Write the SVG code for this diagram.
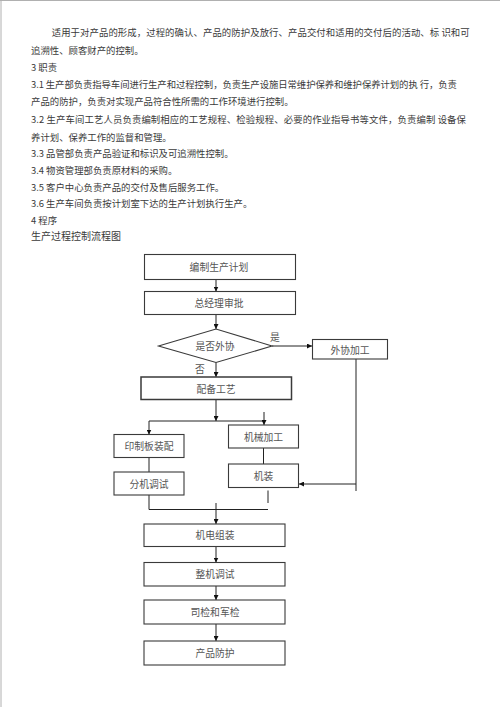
<svg xmlns="http://www.w3.org/2000/svg" width="500" height="707" viewBox="0 0 500 707">
<style>
.p{font-family:"Noto Sans CJK SC","Liberation Serif",sans-serif;font-size:9.4px;fill:#3a3a3a;dominant-baseline:central}
.b{fill:#fff;stroke:#3a3a3a;stroke-width:1.1}
.t{font-family:"Noto Sans CJK SC","Liberation Serif",sans-serif;font-size:9.8px;fill:#555;text-anchor:middle;dominant-baseline:central}
.c{fill:none;stroke:#222;stroke-width:1}
.a{fill:none;stroke:#222;stroke-width:1;marker-end:url(#ah)}
</style>
<defs>
<marker id="ah" viewBox="0 0 10 10" refX="10" refY="5" markerWidth="5" markerHeight="5" markerUnits="userSpaceOnUse" orient="auto">
<path d="M0,0 L10,5 L0,10 Z" fill="#111"/>
</marker>
</defs>
<rect width="500" height="707" fill="#fff"/>
<g id="page-border" stroke="#b0b0b0" stroke-width="1">
<line x1="1" y1="0" x2="1" y2="707"/>
<line x1="0" y1="0.5" x2="500" y2="0.5"/>
</g>
<g id="body-text">
<text class="p" x="51.7" y="32.3" textLength="418" lengthAdjust="spacing">适用于对产品的形成，过程的确认、产品的防护及放行、产品交付和适用的交付后的活动、标 识和可</text>
<text class="p" x="31" y="50">追溯性、顾客财产的控制。</text>
<text class="p" x="31" y="66.7">3 职责</text>
<text class="p" x="31" y="84.3" textLength="426" lengthAdjust="spacing">3.1 生产部负责指导车间进行生产和过程控制，负责生产设施日常维护保养和维护保养计划的执 行，负责</text>
<text class="p" x="31" y="100.7">产品的防护，负责对实现产品符合性所需的工作环境进行控制。</text>
<text class="p" x="31" y="119" textLength="435" lengthAdjust="spacing">3.2 生产车间工艺人员负责编制相应的工艺规程、检验规程、必要的作业指导书等文件，负责编制 设备保</text>
<text class="p" x="31" y="136.7">养计划、保养工作的监督和管理。</text>
<text class="p" x="31" y="153.3">3.3 品管部负责产品验证和标识及可追溯性控制。</text>
<text class="p" x="31" y="170">3.4 物资管理部负责原材料的采购。</text>
<text class="p" x="31" y="186.5">3.5 客户中心负责产品的交付及售后服务工作。</text>
<text class="p" x="31" y="203.3">3.6 生产车间负责按计划室下达的生产计划执行生产。</text>
<text class="p" x="31" y="220">4 程序</text>
<text class="p" x="31" y="235.7" style="font-size:10px">生产过程控制流程图</text>
</g>
<g id="connectors">
<line class="a" x1="216" y1="279.5" x2="216" y2="291.5"/>
<line class="a" x1="216" y1="314.5" x2="216" y2="329"/>
<line class="a" x1="272" y1="346" x2="312" y2="346"/>
<line class="a" x1="216" y1="362.5" x2="216" y2="377"/>
<line class="c" x1="356" y1="359" x2="356" y2="491"/>
<line class="a" x1="356" y1="484" x2="299" y2="484"/>
<line class="a" x1="216" y1="399.5" x2="216" y2="421"/>
<line class="c" x1="149" y1="421" x2="264" y2="421"/>
<line class="a" x1="149" y1="421" x2="149" y2="434.5"/>
<line class="a" x1="264" y1="412" x2="264" y2="425"/>
<line class="c" x1="149" y1="457.5" x2="149" y2="472"/>
<line class="c" x1="263.5" y1="448" x2="263.5" y2="464"/>
<line class="c" x1="268" y1="490.5" x2="268" y2="503"/>
<polyline class="c" points="149,495 149,509.5 268,509.5"/>
<line class="a" x1="216" y1="503" x2="216" y2="524"/>
<line class="a" x1="216" y1="546.5" x2="216" y2="562.5"/>
<line class="a" x1="216" y1="586" x2="216" y2="600"/>
<line class="a" x1="216" y1="624" x2="216" y2="641"/>
<text class="t" x="275" y="337">是</text>
<text class="t" x="200" y="369">否</text>
</g>
<g id="n1"><rect class="b" x="144.5" y="254.5" width="151" height="25"/><text class="t" x="219" y="267">编制生产计划</text></g>
<g id="n2"><rect class="b" x="144.5" y="291.5" width="151" height="23"/><text class="t" x="219" y="303">总经理审批</text></g>
<g id="n3"><polygon class="b" points="158.5,346 216,329 272,346 216,362.5"/><text class="t" x="215" y="346">是否外协</text></g>
<g id="n4"><rect class="b" x="312.5" y="339.5" width="75" height="19.5"/><text class="t" x="350" y="349.5">外协加工</text></g>
<g id="n5"><rect class="b" x="141" y="377" width="150.5" height="22.5" style="stroke-width:1.5"/><text class="t" x="216" y="388.5">配备工艺</text></g>
<g id="n6"><rect class="b" x="114" y="434.5" width="70" height="23"/><text class="t" x="149" y="446">印制板装配</text></g>
<g id="n7"><rect class="b" x="114" y="472" width="70" height="23"/><text class="t" x="149" y="483.5">分机调试</text></g>
<g id="n8"><rect class="b" x="228.5" y="425" width="70" height="23"/><text class="t" x="263.5" y="436.5">机械加工</text></g>
<g id="n9"><rect class="b" x="228.5" y="464" width="70" height="23.5"/><text class="t" x="263.5" y="475.5">机装</text></g>
<g id="n10"><rect class="b" x="144" y="524" width="141" height="22.5"/><text class="t" x="215" y="535">机电组装</text></g>
<g id="n11"><rect class="b" x="144" y="562.5" width="141" height="23.5"/><text class="t" x="215" y="574">整机调试</text></g>
<g id="n12"><rect class="b" x="144" y="600" width="141" height="24"/><text class="t" x="215" y="611.5">司检和军检</text></g>
<g id="n13"><rect class="b" x="144" y="641" width="141" height="24"/><text class="t" x="215" y="652.5">产品防护</text></g>
</svg>
